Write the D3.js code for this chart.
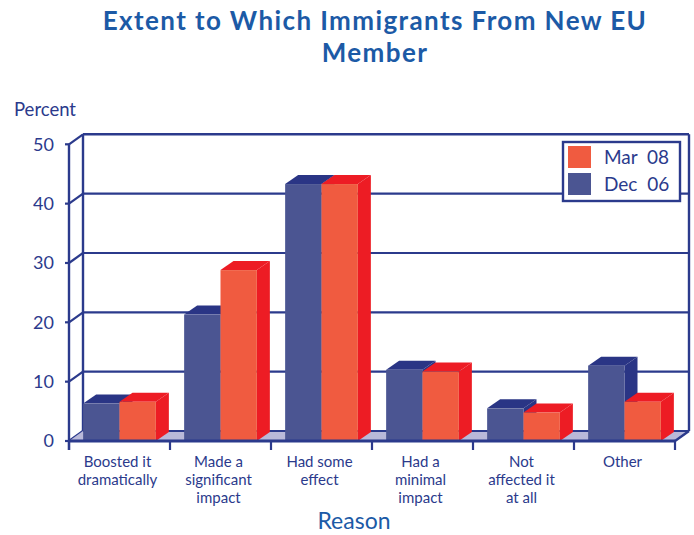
<!DOCTYPE html>
<html><head><meta charset="utf-8">
<script src="https://cdn.jsdelivr.net/npm/d3@7"></script>
<style>body{margin:0;background:#fff}svg{display:block}</style>
</head><body>
<svg id="c" width="694" height="535"></svg>
<script>
const categories = [["Boosted it","dramatically"],["Made a","significant","impact"],["Had some","effect"],["Had a","minimal","impact"],["Not","affected it","at all"],["Other"]];
const seriesNames = ["Dec  06","Mar  08"];
const dec06 = [6.3, 21.3, 43.3, 12.0, 5.5, 12.7];
const mar08 = [6.6, 28.8, 43.3, 11.7, 4.8, 6.6];
const yTicks = [0,10,20,30,40,50];

const svg = d3.select("#c");
const navy = "#2B3A8C", titleBlue = "#1C5AA6";
const font = "Lato, 'Open Sans', sans-serif";
const DX = 14, DY = -10;   // wall depth
const BDX = 13, BDY = -9;  // bar depth

const y = d3.scaleLinear().domain([0,50]).range([441,144.3]);
const idx = d3.range(categories.length);
const x = d3.scaleBand().domain(idx).range([69,675]).paddingInner(0.28).paddingOuter(0.14);
const xs = d3.scaleBand().domain([0,1]).range([0, x.bandwidth()]);
const step = x.step(), x0 = 69, x1 = 675;

const g = svg.append("g");
// back wall gridlines
yTicks.forEach(t => {
  g.append("line").attr("x1", x0+DX).attr("x2", x1+DX).attr("y1", y(t)+DY).attr("y2", y(t)+DY)
   .attr("stroke", navy).attr("stroke-width", t===50?2.6:2.2);
  g.append("line").attr("x1", x0-4).attr("x2", x0).attr("y1", y(t)).attr("y2", y(t)).attr("stroke", navy).attr("stroke-width",2.2);
  g.append("line").attr("x1", x0).attr("x2", x0+DX).attr("y1", y(t)).attr("y2", y(t)+DY).attr("stroke", navy).attr("stroke-width",2.2);
});
g.append("line").attr("x1", x0+DX).attr("x2", x0+DX).attr("y1", y(50)+DY).attr("y2", y(0)+DY).attr("stroke", navy).attr("stroke-width",2.4);
g.append("line").attr("x1", x1+DX).attr("x2", x1+DX).attr("y1", y(50)+DY).attr("y2", y(0)+DY).attr("stroke", navy).attr("stroke-width",2.4);
// floor
g.append("polygon").attr("points", [[x0,y(0)],[x1,y(0)],[x1+DX,y(0)+DY],[x0+DX,y(0)+DY]].map(p=>p.join(",")).join(" "))
 .attr("fill","#B9B9D9");
g.append("line").attr("x1", x0+DX).attr("x2", x1+DX).attr("y1", y(0)+DY).attr("y2", y(0)+DY).attr("stroke", navy).attr("stroke-width",2.2);
g.append("line").attr("x1", x1).attr("x2", x1+DX).attr("y1", y(0)).attr("y2", y(0)+DY).attr("stroke", navy).attr("stroke-width",2.4);

// bars
const cols = [{front:"#4B5592", top:"#2A3585", side:"#2A3585"},{front:"#F05B40", top:"#ED1C24", side:"#ED1C24"}];
const series = [dec06, mar08];
idx.forEach(i => {
  series.forEach((s, k) => {
    const bx = x(i) + xs(k), bw = xs.bandwidth();
    const yt = y(s[i]), yb = y(0);
    const c = cols[k];
    g.append("polygon").attr("points", [[bx+bw,yt],[bx+bw+BDX,yt+BDY],[bx+bw+BDX,yb+BDY],[bx+bw,yb]].map(p=>p.join(",")).join(" ")).attr("fill", c.side);
    g.append("polygon").attr("points", [[bx,yt],[bx+BDX,yt+BDY],[bx+bw+BDX,yt+BDY],[bx+bw,yt]].map(p=>p.join(",")).join(" ")).attr("fill", c.top);
    g.append("rect").attr("x", bx).attr("y", yt).attr("width", bw).attr("height", yb-yt).attr("fill", c.front);
  });
});

// front axis
g.append("line").attr("x1", x0).attr("x2", x0).attr("y1", y(50)).attr("y2", y(0)+9).attr("stroke", navy).attr("stroke-width",2.4);
g.append("line").attr("x1", x0).attr("x2", x1).attr("y1", y(0)).attr("y2", y(0)).attr("stroke", navy).attr("stroke-width",2.8);
d3.range(categories.length+1).forEach(j => {
  g.append("line").attr("x1", x0+j*step).attr("x2", x0+j*step).attr("y1", y(0)).attr("y2", y(0)+9).attr("stroke", navy).attr("stroke-width",2.2);
});

// y tick labels
yTicks.forEach(t => {
  svg.append("text").attr("x", 54).attr("y", y(t)).attr("dy","0.36em").attr("text-anchor","end")
   .attr("font-family", font).attr("font-size", 18).attr("fill", navy).text(t);
});
svg.append("text").attr("x", 14).attr("y", 116).attr("font-family", font).attr("font-size", 18.5).attr("fill", navy).text("Percent");

// x labels
idx.forEach(i => {
  const cx = x(i) + x.bandwidth()/2 - 2;
  categories[i].forEach((ln, j) => {
    svg.append("text").attr("x", cx).attr("y", 467 + j*18).attr("text-anchor","middle")
      .attr("font-family", font).attr("font-size", 15).attr("fill", navy).text(ln);
  });
});
svg.append("text").attr("x", 354).attr("y", 529).attr("text-anchor","middle").attr("font-family", font)
 .attr("font-size", 23).attr("fill", titleBlue).text("Reason");

// title
svg.append("text").attr("x", 375).attr("y", 30).attr("text-anchor","middle").attr("font-family", font)
 .attr("font-weight","bold").attr("font-size", 26).attr("letter-spacing", 1.4).attr("fill", titleBlue).text("Extent to Which Immigrants From New EU");
svg.append("text").attr("x", 375).attr("y", 62).attr("text-anchor","middle").attr("font-family", font)
 .attr("font-weight","bold").attr("font-size", 26).attr("letter-spacing", 1.4).attr("fill", titleBlue).text("Member");

// legend
const lg = svg.append("g");
lg.append("rect").attr("x", 563).attr("y", 142).attr("width", 117).attr("height", 59).attr("fill","#fff").attr("stroke", navy).attr("stroke-width",2.4);
const legendOrder = [1, 0];
legendOrder.forEach((k, j) => {
  lg.append("rect").attr("x", 568).attr("y", 146 + j*27).attr("width", 23).attr("height", 22).attr("fill", cols[k].front);
  lg.append("text").attr("x", 604).attr("y", 164 + j*27).attr("font-family", font).attr("font-size", 19)
    .attr("fill", navy).style("white-space","pre").text(seriesNames[k]);
});
</script>
</body></html>
